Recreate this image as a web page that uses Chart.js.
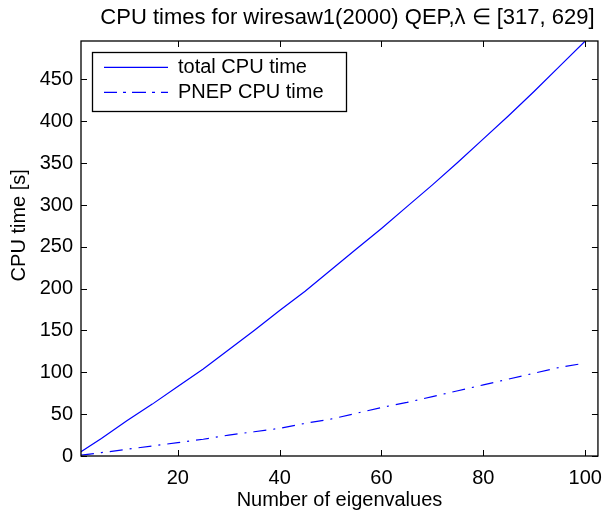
<!DOCTYPE html>
<html>
<head>
<meta charset="utf-8">
<script src="https://cdn.jsdelivr.net/npm/chart.js@4/dist/chart.umd.min.js"></script>
<style>
  html, body { margin: 0; padding: 0; background: #ffffff; }
  #wrap { width: 612px; height: 514px; }
</style>
</head>
<body>
<div id="wrap"><canvas id="c" width="612" height="514"></canvas></div>
<script>
// ---- data ----
const eigenCounts = [1, 5, 10, 15, 20, 25, 30, 35, 40, 45, 50, 55, 60, 65, 70, 75, 80, 85, 90, 95, 100];
const totalCpu    = [5, 21, 42, 62, 83, 104, 127, 150, 174, 197, 222, 247, 272, 298, 324, 351, 379, 407, 436, 466, 496];
const pnepCpu     = [1, 4, 8, 12, 16, 20, 25, 29, 33, 39, 44, 51, 58, 64, 71, 78, 85, 92, 99, 106, 111];
const xTickValues = [20, 40, 60, 80, 100];
const yTickValues = [0, 50, 100, 150, 200, 250, 300, 350, 400, 450];
const seriesNames = ['total CPU time', 'PNEP CPU time'];
const chartTitle  = 'CPU times for wiresaw1(2000) QEP,\u03bb \u2208 [317, 629]';
const xLabel = 'Number of eigenvalues';
const yLabel = 'CPU time [s]';

const FONT = "'Liberation Sans', Arial, Helvetica, sans-serif";

const toPoints = (ys) => ys.map((v, i) => ({ x: eigenCounts[i], y: v }));

const matlabFrame = {
  id: 'matlabFrame',
  afterLayout(chart) {
    const a = chart.chartArea;
    const lg = chart.legend;
    if (lg) {
      lg.left = a.left + 18; lg.right = lg.left + 300;
      lg.top = a.top + 11.3; lg.bottom = lg.top + 200;
    }
    const tb = chart.titleBlock;
    if (tb) {
      tb.left = a.left + 16; tb.right = a.right;
    }
  },
  afterDraw(chart) {
    const { ctx, chartArea: a, scales: { x, y } } = chart;
    ctx.save();
    ctx.strokeStyle = '#000';
    ctx.lineWidth = 1.3;
    ctx.strokeRect(a.left, a.top, a.right - a.left, a.bottom - a.top);
    const tl = 6;
    ctx.lineWidth = 1;
    ctx.beginPath();
    x.ticks.forEach(t => {
      const px = Math.round(x.getPixelForValue(t.value)) + 0.5;
      ctx.moveTo(px, a.bottom); ctx.lineTo(px, a.bottom - tl);
      ctx.moveTo(px, a.top); ctx.lineTo(px, a.top + tl);
    });
    y.ticks.forEach(t => {
      const py = Math.round(y.getPixelForValue(t.value)) + 0.5;
      ctx.moveTo(a.left, py); ctx.lineTo(a.left + tl, py);
      ctx.moveTo(a.right, py); ctx.lineTo(a.right - tl, py);
    });
    ctx.stroke();
    // legend border
    const lg = chart.legend;
    if (lg) {
      const lo = lg.options.labels;
      const fs = lo.font.size;
      ctx.font = fs + 'px ' + FONT;
      const maxW = Math.max(...seriesNames.map(s => ctx.measureText(s).width));
      const x0 = Math.round(lg.left - 7) + 0.5;
      const y0 = Math.round(lg.top) + 0.5;
      const x1 = Math.round(lg.left + lo.padding + lo.boxWidth + fs / 2 + maxW + 22) + 0.5;
      const y1 = Math.round(lg.top + lo.padding + 2 * (fs + lo.padding) + 4) + 0.5;
      ctx.lineWidth = 1.3;
      ctx.strokeRect(x0, y0, x1 - x0, y1 - y0);
    }
    // y-axis label (placed as in the reference, a bit above the axes centre)
    ctx.fillStyle = '#000';
    ctx.font = '20px ' + FONT;
    ctx.textAlign = 'center';
    ctx.textBaseline = 'middle';
    ctx.translate(19, a.top + (a.bottom - a.top) * 0.444);
    ctx.rotate(-Math.PI / 2);
    ctx.fillText(yLabel, 0, 0);
    ctx.restore();
  }
};

new Chart(document.getElementById('c'), {
  type: 'line',
  data: {
    datasets: [
      {
        label: seriesNames[0],
        data: toPoints(totalCpu),
        borderColor: '#0000ff',
        backgroundColor: 'transparent',
        borderWidth: 1.2,
        pointRadius: 0,
        tension: 0,
        fill: false
      },
      {
        label: seriesNames[1],
        data: toPoints(pnepCpu),
        borderColor: '#0000ff',
        backgroundColor: 'transparent',
        borderWidth: 1.2,
        borderDash: [13, 7, 2, 7],
        pointRadius: 0,
        tension: 0,
        fill: false
      }
    ]
  },
  options: {
    responsive: false,
    animation: false,
    events: [],
    layout: { padding: { left: 0, right: 4, top: 0, bottom: 0 } },
    plugins: {
      title: {
        display: true,
        text: chartTitle,
        color: '#000',
        font: { family: FONT, size: 22, weight: 'normal', lineHeight: 1.2 },
        padding: { top: 4.8, bottom: 9.8 }
      },
      legend: {
        position: 'chartArea',
        align: 'start',
        labels: {
          color: '#000',
          font: { family: FONT, size: 20 },
          boxWidth: 64,
          boxHeight: 0,
          padding: 5
        }
      },
      tooltip: { enabled: false }
    },
    scales: {
      x: {
        type: 'linear',
        min: 1,
        max: 102.5,
        grid: { display: false, drawTicks: false },
        border: { display: false },
        afterBuildTicks: (s) => { s.ticks = xTickValues.map(v => ({ value: v })); },
        afterFit: (s) => { s.height = 58; },
        ticks: {
          color: '#000',
          font: { family: FONT, size: 20 },
          padding: 10,
          maxRotation: 0,
          callback: (v) => String(v)
        },
        title: {
          display: true,
          text: xLabel,
          color: '#000',
          font: { family: FONT, size: 20, lineHeight: 1.2 },
          padding: { top: 0, bottom: 2 }
        }
      },
      y: {
        type: 'linear',
        min: 0,
        max: 496,
        grid: { display: false, drawTicks: false },
        border: { display: false },
        afterBuildTicks: (s) => { s.ticks = yTickValues.map(v => ({ value: v })); },
        afterFit: (s) => { s.width = 81; },
        ticks: {
          color: '#000',
          font: { family: FONT, size: 20 },
          padding: 8,
          callback: (v) => String(v)
        },
        title: { display: false }
      }
    }
  },
  plugins: [matlabFrame]
});
</script>
</body>
</html>
